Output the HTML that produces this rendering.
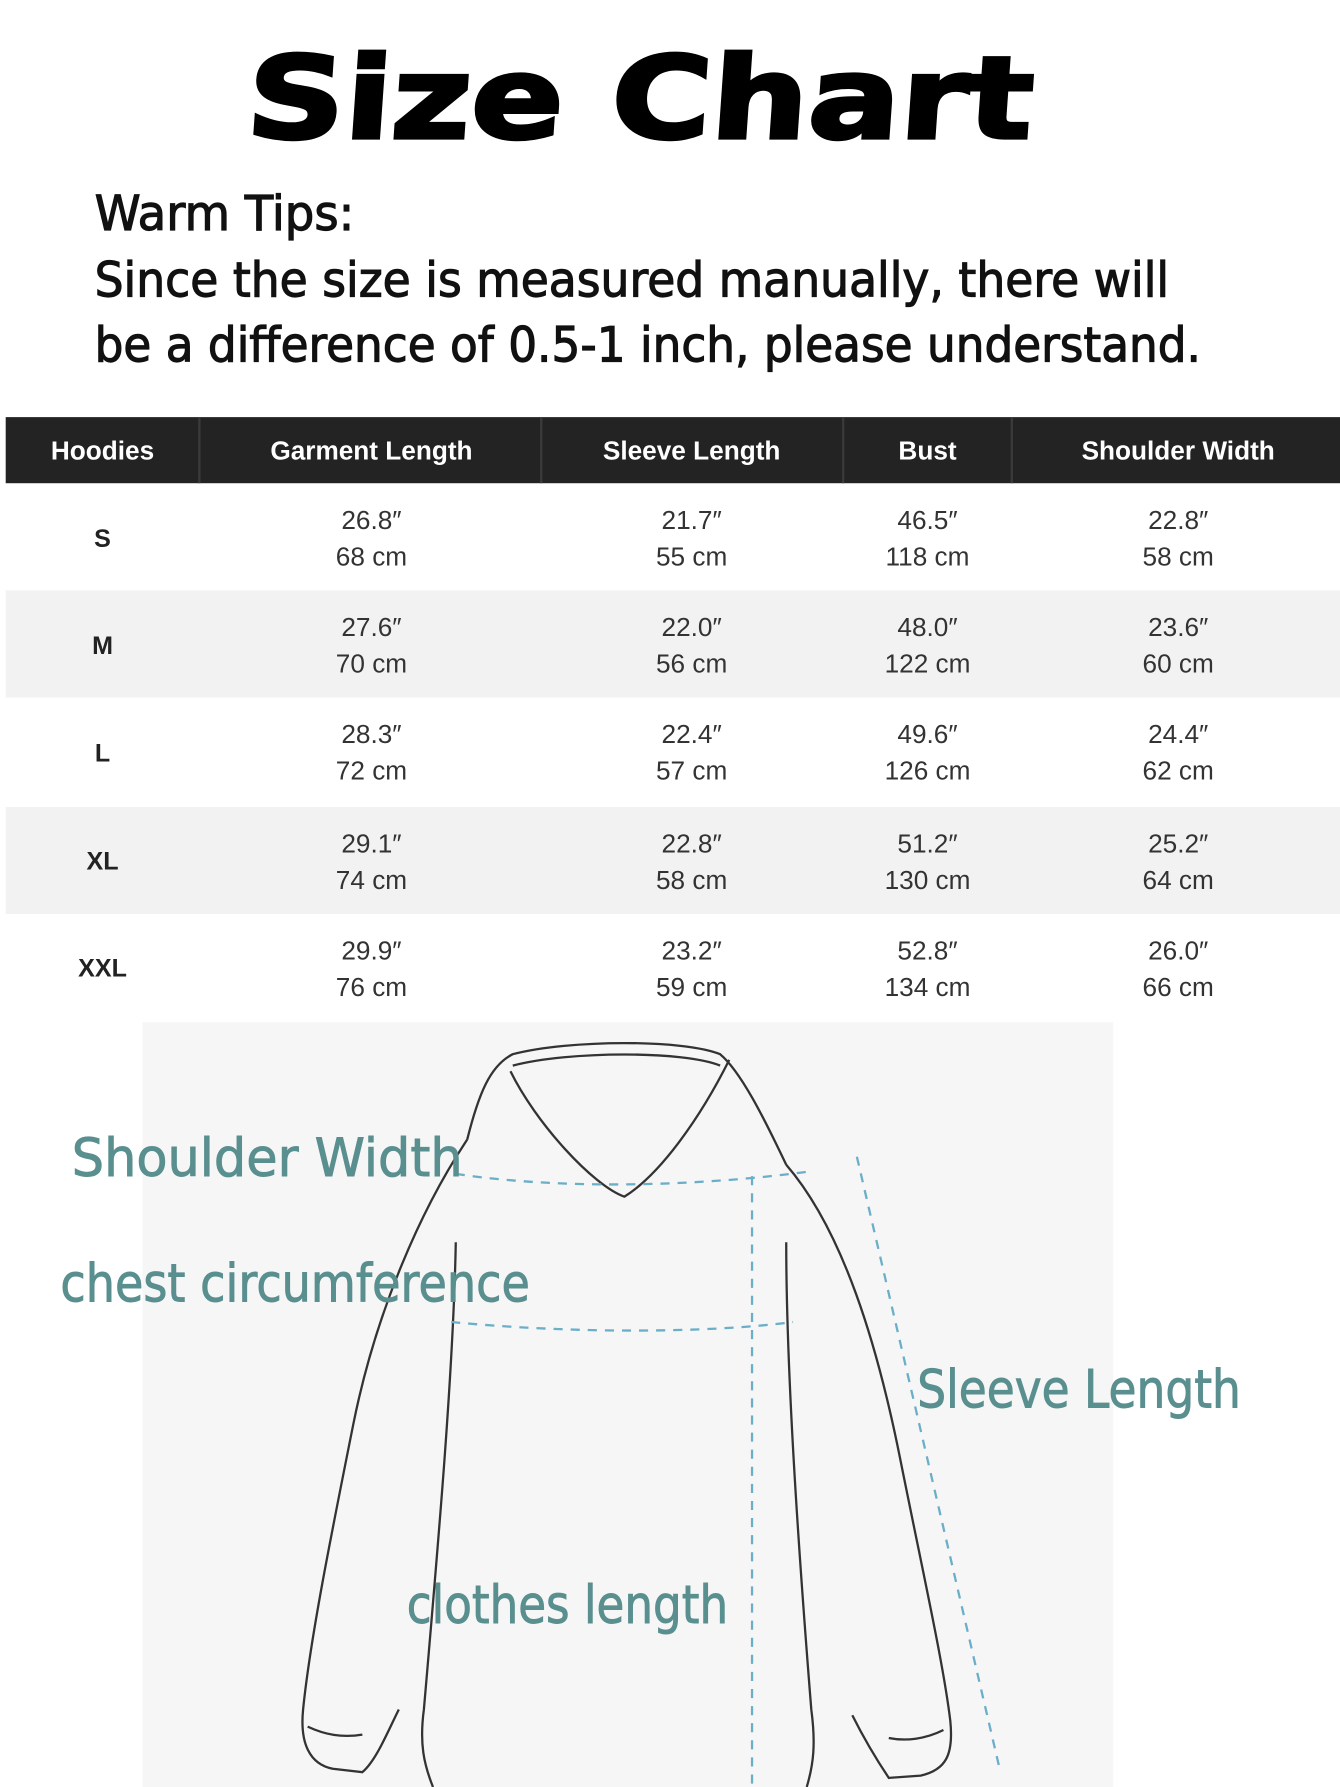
<!DOCTYPE html>
<html><head><meta charset="utf-8"><style>
html,body{margin:0;padding:0;background:#fff;}
svg{display:block;}
</style></head><body>
<svg width="1340" height="1787" viewBox="0 0 1176 1568" preserveAspectRatio="none" xmlns="http://www.w3.org/2000/svg" font-family="Liberation Sans, DejaVu Sans, sans-serif">
<rect width="1176" height="1568" fill="#fff"/>
<text x="215" y="121" font-size="100" font-weight="bold" textLength="690" lengthAdjust="spacingAndGlyphs" fill="#000" stroke="#000" stroke-width="3" font-family="DejaVu Sans, sans-serif" transform="skewX(-4) translate(8,0)">Size  Chart</text>
<g font-size="42" fill="#111" stroke="#111" stroke-width="1" font-family="DejaVu Sans, Liberation Sans, sans-serif">
<text x="83" y="202" textLength="228" lengthAdjust="spacingAndGlyphs">Warm Tips:</text>
<text x="83" y="260" textLength="943" lengthAdjust="spacingAndGlyphs">Since the size is measured manually, there will</text>
<text x="83" y="317" textLength="971" lengthAdjust="spacingAndGlyphs">be a difference of 0.5-1 inch, please understand.</text>
</g>
<rect x="5" y="366" width="1171" height="58" fill="#232323"/>
<g stroke="#3a3a3a" stroke-width="2"><line x1="175" y1="366" x2="175" y2="424"/><line x1="475" y1="366" x2="475" y2="424"/><line x1="740" y1="366" x2="740" y2="424"/><line x1="888" y1="366" x2="888" y2="424"/></g>
<g font-size="23" font-weight="bold" fill="#fff" text-anchor="middle">
<text x="90" y="403">Hoodies</text><text x="326" y="403">Garment Length</text><text x="607" y="403">Sleeve Length</text><text x="814" y="403">Bust</text><text x="1034" y="403">Shoulder Width</text>
</g>
<rect x="5" y="518" width="1171" height="94" fill="#f2f2f2"/>
<rect x="5" y="708" width="1171" height="94" fill="#f2f2f2"/>
<g font-size="22" fill="#222" text-anchor="middle">
<g font-weight="bold"><text x="90" y="480">S</text><text x="90" y="574">M</text><text x="90" y="668">L</text><text x="90" y="763">XL</text><text x="90" y="857">XXL</text></g>
<g fill="#333" font-size="23">
<text x="326" y="464">26.8″</text><text x="326" y="496">68 cm</text><text x="607" y="464">21.7″</text><text x="607" y="496">55 cm</text><text x="814" y="464">46.5″</text><text x="814" y="496">118 cm</text><text x="1034" y="464">22.8″</text><text x="1034" y="496">58 cm</text>
<text x="326" y="558">27.6″</text><text x="326" y="590">70 cm</text><text x="607" y="558">22.0″</text><text x="607" y="590">56 cm</text><text x="814" y="558">48.0″</text><text x="814" y="590">122 cm</text><text x="1034" y="558">23.6″</text><text x="1034" y="590">60 cm</text>
<text x="326" y="652">28.3″</text><text x="326" y="684">72 cm</text><text x="607" y="652">22.4″</text><text x="607" y="684">57 cm</text><text x="814" y="652">49.6″</text><text x="814" y="684">126 cm</text><text x="1034" y="652">24.4″</text><text x="1034" y="684">62 cm</text>
<text x="326" y="748">29.1″</text><text x="326" y="780">74 cm</text><text x="607" y="748">22.8″</text><text x="607" y="780">58 cm</text><text x="814" y="748">51.2″</text><text x="814" y="780">130 cm</text><text x="1034" y="748">25.2″</text><text x="1034" y="780">64 cm</text>
<text x="326" y="842">29.9″</text><text x="326" y="874">76 cm</text><text x="607" y="842">23.2″</text><text x="607" y="874">59 cm</text><text x="814" y="842">52.8″</text><text x="814" y="874">134 cm</text><text x="1034" y="842">26.0″</text><text x="1034" y="874">66 cm</text>
</g></g>
<rect x="125" y="897" width="852" height="671" fill="#f6f6f6"/>
<g fill="none" stroke="#333" stroke-width="2">
<path d="M410,1000 C420,960 430,935 450,925 C500,912 600,912 632,925 C650,940 670,980 690,1022"/>
<path d="M448,940 C470,985 520,1040 548,1050 C580,1030 615,980 640,930"/>
<path d="M450,935 C500,922 600,922 632,935"/>
<path d="M410,1000 C370,1060 330,1150 310,1250 C290,1350 272,1440 266,1500 C263,1530 272,1548 292,1552 L318,1555 C330,1545 340,1520 350,1500"/>
<path d="M690,1022 C740,1080 770,1180 790,1280 C810,1380 828,1460 834,1510 C837,1540 830,1553 808,1558 L780,1560 C770,1545 758,1525 748,1505"/>
<path d="M400,1090 C398,1200 385,1350 372,1500 C368,1530 372,1548 380,1568"/>
<path d="M690,1090 C690,1200 700,1350 712,1500 C716,1530 714,1548 708,1568"/>
<path d="M270,1515 C285,1522 300,1525 318,1522 M828,1518 C812,1526 795,1528 780,1525"/>
</g>
<g fill="none" stroke="#6aaec8" stroke-width="2" stroke-dasharray="8,7">
<path d="M400,1030 C500,1045 620,1040 710,1028"/>
<path d="M396,1160 C500,1170 620,1170 696,1160"/>
<path d="M660,1032 L660,1565"/>
<path d="M752,1015 L878,1555"/>
</g>
<g font-size="46" fill="#5a8f8f" stroke="#5a8f8f" stroke-width="0.8" font-family="DejaVu Sans, sans-serif">
<text x="63" y="1032" textLength="343" lengthAdjust="spacingAndGlyphs">Shoulder  Width</text>
<text x="53" y="1142" textLength="412" lengthAdjust="spacingAndGlyphs">chest  circumference</text>
<text x="805" y="1235" textLength="284" lengthAdjust="spacingAndGlyphs">Sleeve Length</text>
<text x="357" y="1424" textLength="282" lengthAdjust="spacingAndGlyphs">clothes length</text>
</g>
</svg>
</body></html>
